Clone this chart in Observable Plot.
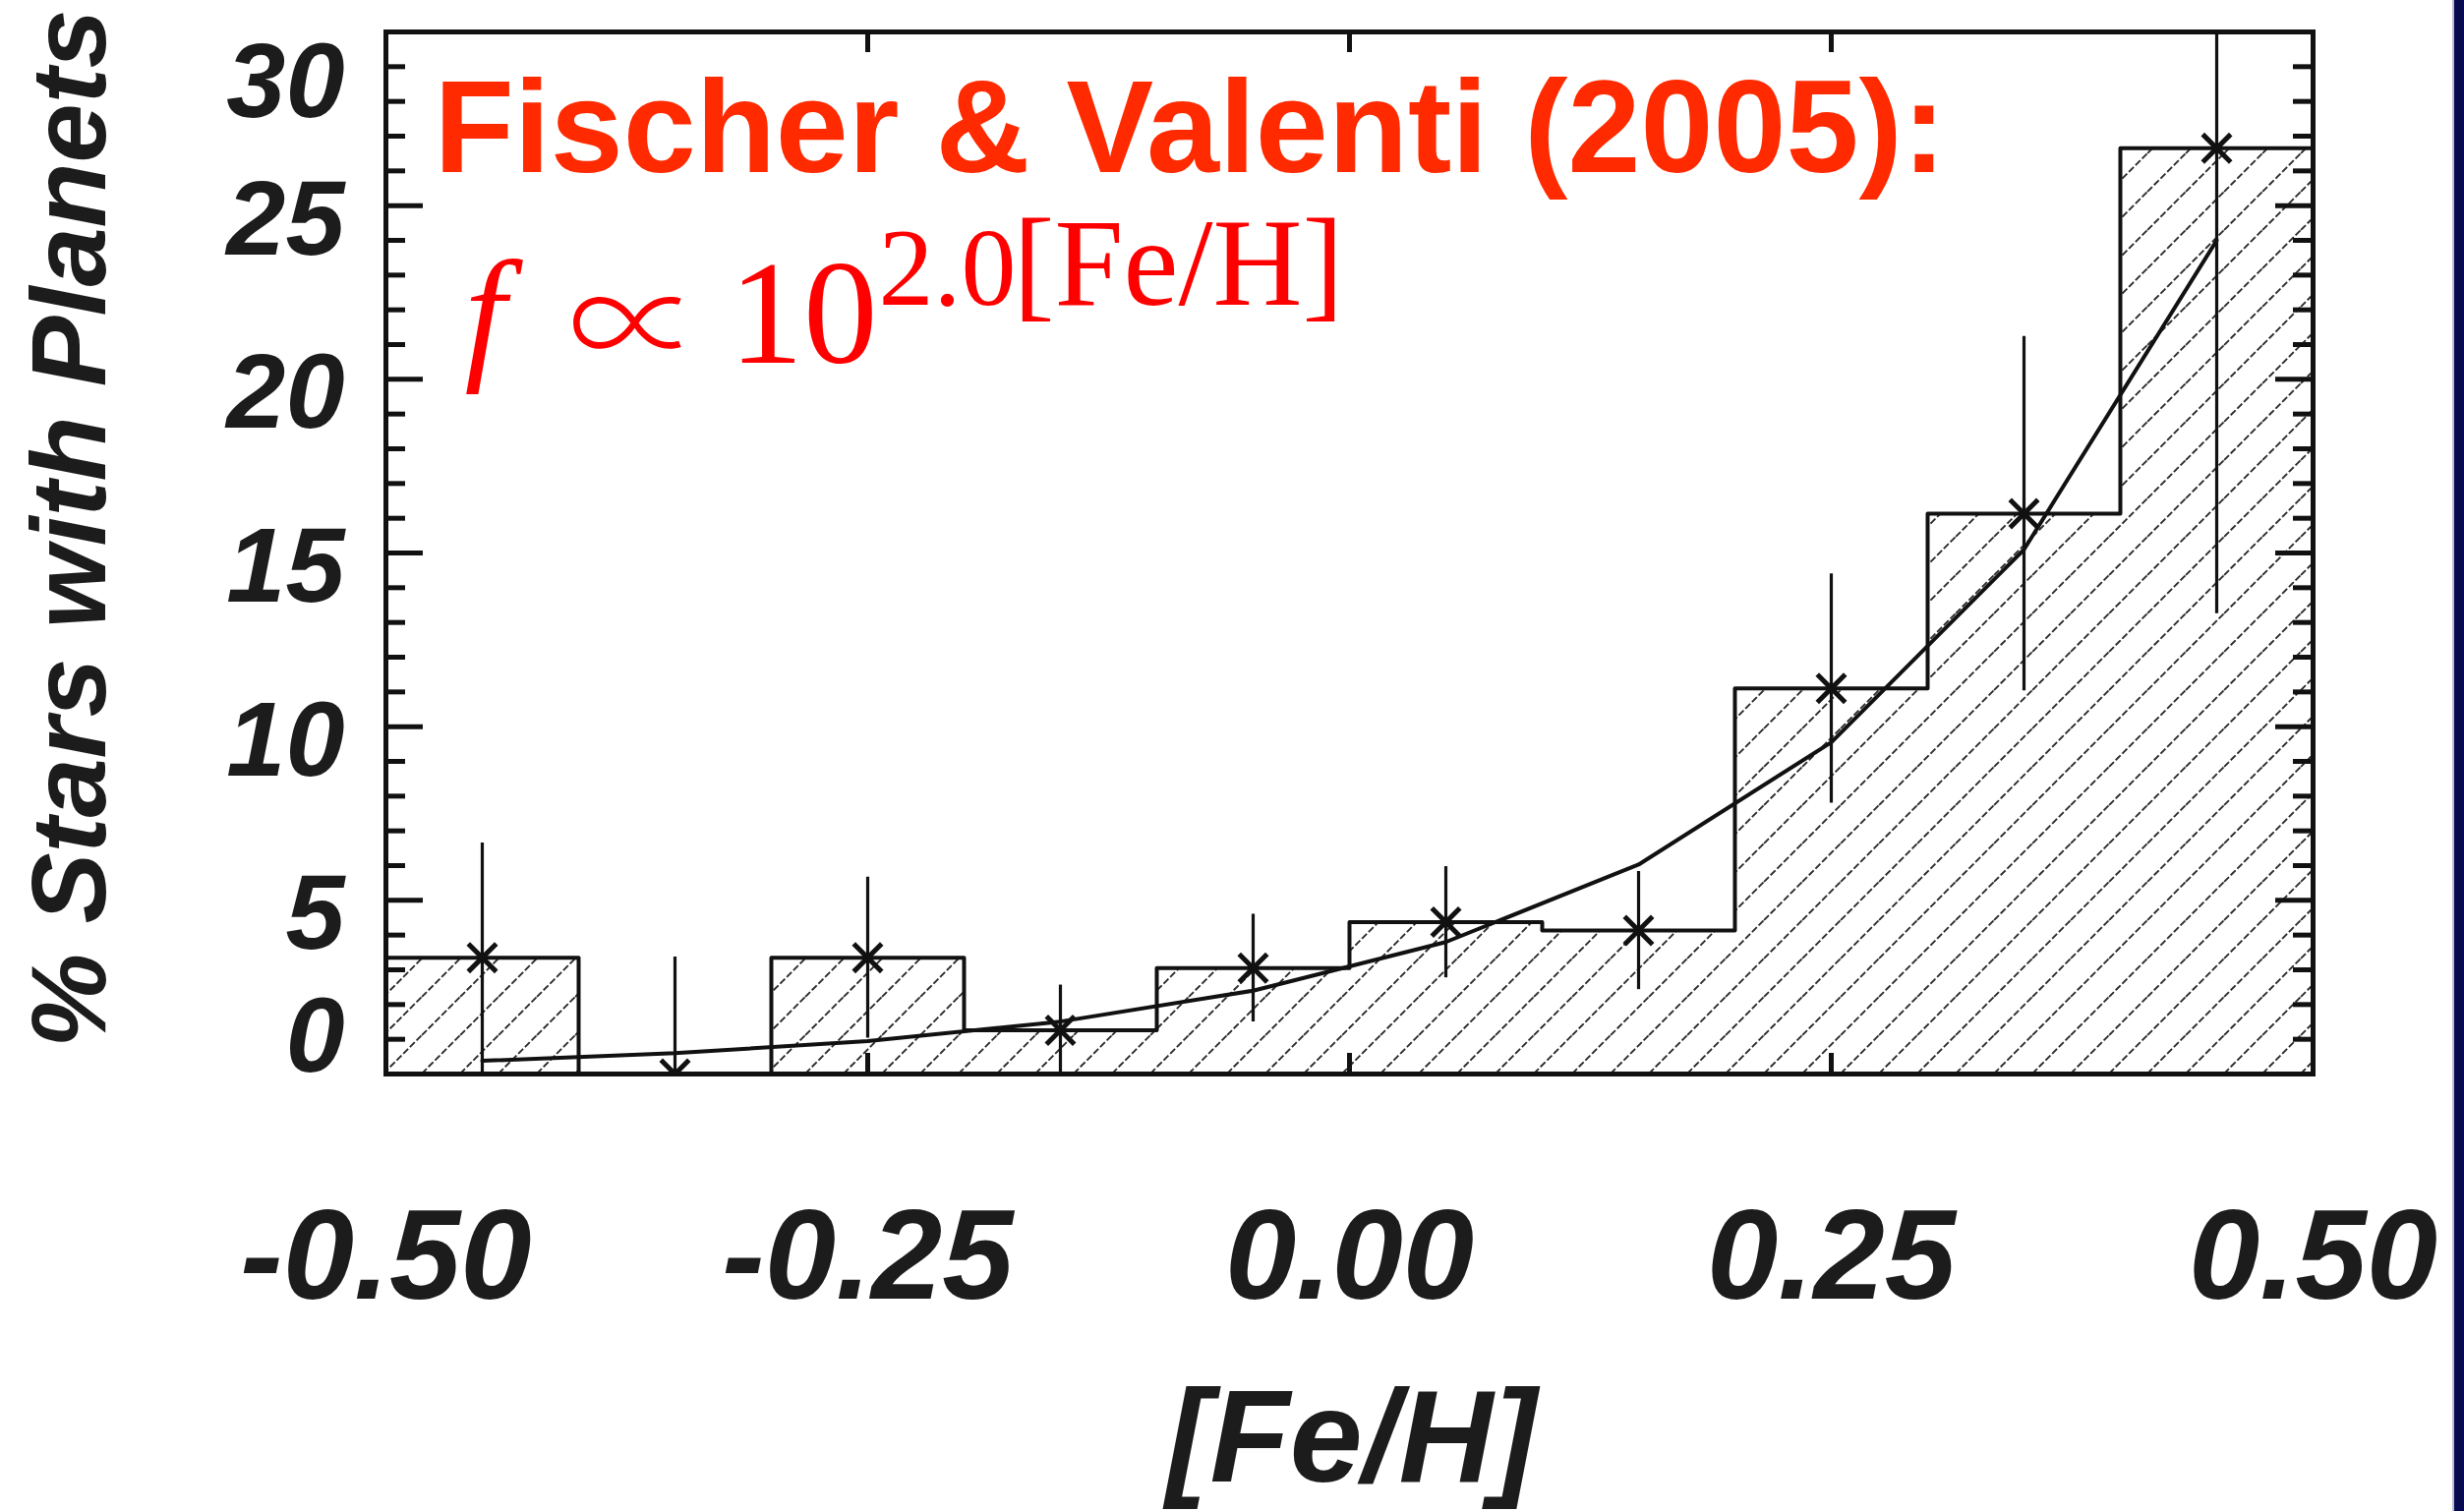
<!DOCTYPE html>
<html>
<head>
<meta charset="utf-8">
<script src="https://cdn.jsdelivr.net/npm/d3@7"></script>
<script src="https://cdn.jsdelivr.net/npm/@observablehq/plot@0.6"></script>
<style>
  html, body { margin: 0; padding: 0; background: #fff; overflow: hidden; }
  #chart { position: absolute; left: 0; top: 0; }
  #chart svg { display: block; }
  #edge { position: absolute; top: 0; right: 0; width: 10px; height: 1537px;
          background: #070a50; border-left: 2px solid #b9bdd3; }
</style>
</head>
<body>
<div id="chart"></div>
<div id="edge"></div>
<script>
// Metallicity bins in [Fe/H], 0.1 dex wide
const binLo  = [-0.5, -0.4, -0.3, -0.2, -0.1, 0.0, 0.1, 0.2, 0.3, 0.4];
const binHi  = [-0.4, -0.3, -0.2, -0.1, 0.0, 0.1, 0.2, 0.3, 0.4, 0.5];
const binMid = [-0.45, -0.35, -0.25, -0.15, -0.05, 0.05, 0.15, 0.25, 0.35, 0.45];
// Percentage of stars hosting planets per bin, with its uncertainty
const pct    = [3.35, 0.0, 3.35, 1.26, 3.05, 4.37, 4.13, 11.1, 16.13, 26.65];
const pctErr = [3.3, 3.37, 2.32, 1.3, 1.55, 1.6, 1.7, 3.3, 5.1, 13.4];
// Power-law fit f ∝ 10^(2.0[Fe/H]) evaluated at the bin centres
const fitX = [-0.45, -0.35, -0.25, -0.15, -0.05, 0.05, 0.15, 0.25, 0.35, 0.45];
const fitY = [0.38, 0.60, 0.95, 1.51, 2.40, 3.80, 6.03, 9.55, 15.1, 24.0];
// Axis ticks and labels
const xTicks = [-0.5, -0.25, 0, 0.25, 0.5];
const xTickLabels = ["-0.50", "-0.25", "0.00", "0.25", "0.50"];
const yMajor = [0, 5, 10, 15, 20, 25, 30];
const yMinor = [1, 2, 3, 4, 6, 7, 8, 9, 11, 12, 13, 14, 16, 17, 18, 19, 21, 22, 23, 24, 26, 27, 28, 29];
const yLabelsMid = [5, 10, 15, 20, 25];
const yLabelTop = [30];
const yLabelBottom = [0];

const bins = binLo.map((lo, i) => ({lo, hi: binHi[i], mid: binMid[i], pct: pct[i], err: pctErr[i]}));
// histogram outline as a step path along the bin tops
const steps = bins.flatMap(b => [{x: b.lo, y: b.pct}, {x: b.hi, y: b.pct}]);
const fit = fitX.map((x, i) => ({x, y: fitY[i]}));

const W = 2506, H = 1537;
const M = {left: 392, right: 154, top: 32, bottom: 445};
const frameW = W - M.left - M.right;
const frameH = H - M.top - M.bottom;
const ink = "#111";
const sans = "'Liberation Sans', Arial, Helvetica, sans-serif";
const serif = "'Liberation Serif', 'Times New Roman', serif";
const labelStyle = {fontFamily: sans, fontWeight: "bold", fontStyle: "italic", fill: "#1c1c1c"};
const red = "#ff0000";

const plot = Plot.plot({
  width: W, height: H,
  marginLeft: M.left, marginRight: M.right, marginTop: M.top, marginBottom: M.bottom,
  x: {domain: [-0.5, 0.5], axis: null},
  y: {domain: [0, 30], axis: null},
  style: {background: "white", overflow: "visible"},
  marks: [
    // hatched histogram
    Plot.rectY(bins, {x1: "lo", x2: "hi", y: "pct", fill: "url(#fv-hatch)", inset: 0}),
    Plot.line(steps, {x: "x", y: "y", stroke: ink, strokeWidth: 4}),
    // fitted relation
    Plot.line(fit, {x: "x", y: "y", stroke: ink, strokeWidth: 4}),
    // error bars and measured points
    Plot.ruleX(bins, {x: "mid", y1: d => d.pct - d.err, y2: d => d.pct + d.err, stroke: ink, strokeWidth: 3.2, clip: true}),
    Plot.dot(bins, {x: "mid", y: "pct", symbol: "times", r: 13, stroke: ink, strokeWidth: 5, clip: true}),
    // inward ticks on all four sides
    Plot.tickY(yMajor, {y: d => d, insetRight: frameW - 38, stroke: ink, strokeWidth: 5}),
    Plot.tickY(yMinor, {y: d => d, insetRight: frameW - 20, stroke: ink, strokeWidth: 5}),
    Plot.tickY(yMajor, {y: d => d, insetLeft: frameW - 38, stroke: ink, strokeWidth: 5}),
    Plot.tickY(yMinor, {y: d => d, insetLeft: frameW - 20, stroke: ink, strokeWidth: 5}),
    Plot.tickX(xTicks, {x: d => d, insetBottom: frameH - 21, stroke: ink, strokeWidth: 5}),
    Plot.tickX(xTicks, {x: d => d, insetTop: frameH - 21, stroke: ink, strokeWidth: 5}),
    Plot.frame({stroke: ink, strokeWidth: 5}),
    // y tick labels
    Plot.text(yLabelsMid, {y: d => d, text: d => String(d), frameAnchor: "left", textAnchor: "end", dx: -42, dy: 15, fontSize: 108, ...labelStyle}),
    Plot.text(yLabelTop, {y: d => d, text: d => String(d), frameAnchor: "left", textAnchor: "end", dx: -42, dy: 52, fontSize: 108, ...labelStyle}),
    Plot.text(yLabelBottom, {y: d => d, text: d => String(d), frameAnchor: "left", textAnchor: "end", dx: -42, dy: -37, fontSize: 108, ...labelStyle}),
    // x tick labels
    Plot.text(xTicks, {x: d => d, text: (d, i) => xTickLabels[i], frameAnchor: "bottom", lineAnchor: "bottom", textAnchor: "middle", dy: 228, fontSize: 130, ...labelStyle}),
    // axis titles
    Plot.text(["[Fe/H]"], {text: d => d, frameAnchor: "bottom", textAnchor: "middle", lineAnchor: "bottom", dx: 2, dy: 414, fontSize: 133, ...labelStyle}),
    Plot.text(["% Stars with Planets"], {text: d => d, frameAnchor: "left", rotate: -90, textAnchor: "middle", lineAnchor: "bottom", dx: -286, dy: -25, fontSize: 108, ...labelStyle}),
    // annotation: reference and fitted relation
    Plot.text(["Fischer & Valenti (2005):"], {text: d => d, frameAnchor: "top-left", textAnchor: "start", lineAnchor: "bottom", dx: 49, dy: 142, fontSize: 133, fontFamily: sans, fontWeight: "bold", fill: "#ff2a00"}),
    Plot.text(["f"], {text: d => d, frameAnchor: "top-left", textAnchor: "start", lineAnchor: "bottom", dx: 80, dy: 336, fontSize: 151, fontFamily: serif, fontStyle: "italic", fill: red}),
    Plot.text(["∝"], {text: d => d, frameAnchor: "top-left", textAnchor: "middle", lineAnchor: "middle", dx: 253, dy: 303, fontSize: 135, fontWeight: 300, fontFamily: "'Noto Sans CJK JP', 'DejaVu Serif', serif", fill: red}),
    Plot.text(["10"], {text: d => d, frameAnchor: "top-left", textAnchor: "start", lineAnchor: "bottom", dx: 349, dy: 336, fontSize: 151, fontFamily: serif, fill: red}),
    Plot.text(["2.0"], {text: d => d, frameAnchor: "top-left", textAnchor: "start", lineAnchor: "bottom", dx: 501, dy: 277, fontSize: 112, fontFamily: serif, fill: red}),
    Plot.text(["[Fe/H]"], {text: d => d, frameAnchor: "top-left", textAnchor: "start", lineAnchor: "bottom", dx: 638, dy: 277, fontSize: 126, fontFamily: serif, fill: red})
  ]
});

// diagonal hatch fill used by the histogram bars
const svg = d3.select(plot);
const pattern = svg.insert("defs", ":first-child").append("pattern")
  .attr("id", "fv-hatch")
  .attr("patternUnits", "userSpaceOnUse")
  .attr("width", 39).attr("height", 39);
pattern.append("rect").attr("width", 39).attr("height", 39).attr("fill", "white");
pattern.append("path")
  .attr("d", "M-5,5 L5,-5 M0,39 L39,0 M34,44 L44,34")
  .attr("stroke", "#2a2a2a")
  .attr("stroke-width", 1.9)
  .attr("stroke-dasharray", "7 2.5")
  .attr("fill", "none");

document.getElementById("chart").appendChild(plot);
</script>
</body>
</html>
